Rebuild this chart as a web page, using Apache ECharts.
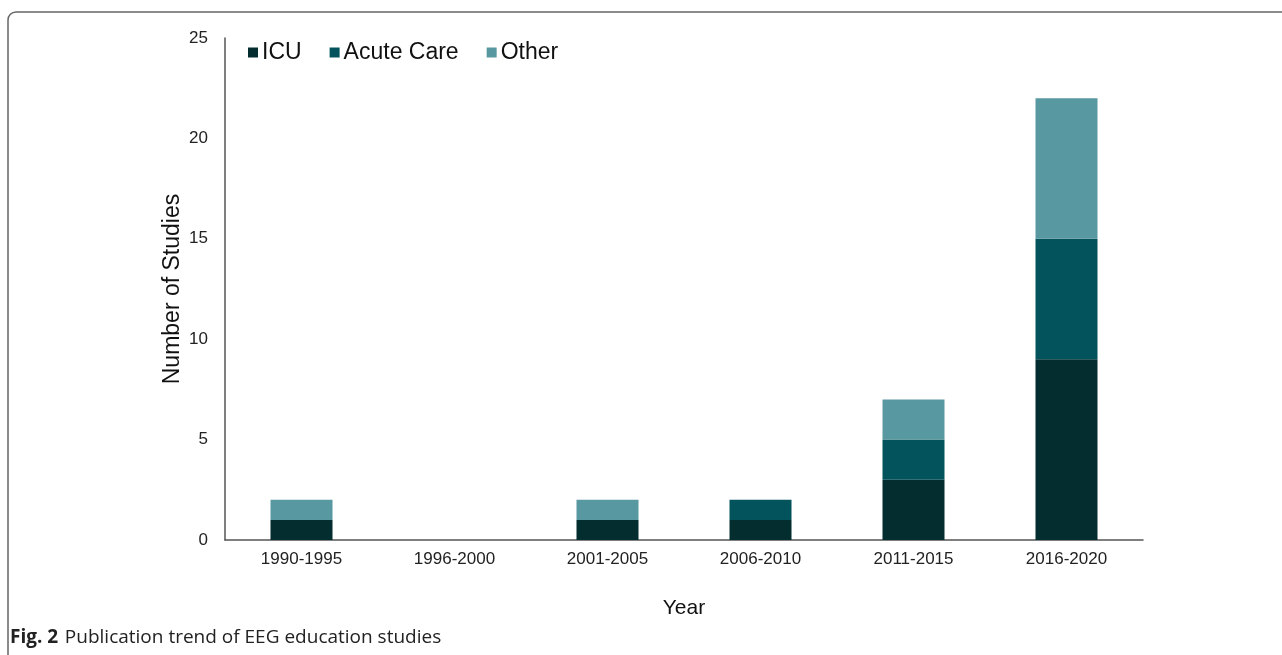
<!DOCTYPE html>
<html>
<head>
<meta charset="utf-8">
<script src="https://cdn.jsdelivr.net/npm/echarts@6/dist/echarts.min.js"></script>
<style>
html,body{margin:0;padding:0;background:#fff;}
#chart{width:1282px;height:655px;}
</style>
</head>
<body>
<div id="chart"></div>
<script>
const categories = ['1990-1995','1996-2000','2001-2005','2006-2010','2011-2015','2016-2020'];
const icu = [1, 0, 1, 1, 3, 9];
const acuteCare = [0, 0, 0, 1, 2, 6];
const other = [1, 0, 1, 0, 2, 7];
const yTicks = [0, 5, 10, 15, 20, 25];

const chart = echarts.init(document.getElementById('chart'), null, {renderer:'canvas'});
const font = 'Liberation Sans, Arial, sans-serif';
chart.setOption({
  animation: false,
  backgroundColor: '#fff',
  textStyle: {fontFamily: font},
  legend: {
    left: 243, top: 36,
    itemWidth: 10, itemHeight: 10, itemGap: 28,
    icon: 'rect',
    textStyle: {fontSize: 23, color: '#111', fontFamily: font, padding: [0,0,0,-1]},
    data: ['ICU','Acute Care','Other']
  },
  grid: {left: 225, top: 38, width: 918, height: 502, containLabel: false},
  xAxis: {
    type: 'category', data: categories,
    name: 'Year', nameLocation: 'middle', nameGap: 58, nameMoveOverlap: false,
    nameTextStyle: {fontSize: 21, color: '#111', fontFamily: font},
    axisLine: {lineStyle: {color: '#555', width: 1.5}},
    axisTick: {show: false},
    axisLabel: {fontSize: 17, color: '#222', margin: 11, fontFamily: font}
  },
  yAxis: {
    type: 'value', min: yTicks[0], max: yTicks[yTicks.length-1], interval: 5,
    name: 'Number of Studies', nameLocation: 'middle', nameGap: 41, nameMoveOverlap: false,
    nameTextStyle: {fontSize: 23, color: '#111', fontFamily: font},
    axisLine: {show: true, lineStyle: {color: '#555', width: 1.5}},
    axisTick: {show: false},
    splitLine: {show: false},
    axisLabel: {fontSize: 17, color: '#222', margin: 17, fontFamily: font}
  },
  series: [
    {name:'ICU', type:'bar', stack:'s', data: icu, barWidth: 62, itemStyle:{color:'#032d2f'}},
    {name:'Acute Care', type:'bar', stack:'s', data: acuteCare, barWidth: 62, itemStyle:{color:'#03535c'}},
    {name:'Other', type:'bar', stack:'s', data: other, barWidth: 62, itemStyle:{color:'#5898a1'}}
  ],
  graphic: [
    {type:'rect', shape:{x:8, y:12, width:1320, height:700, r:8}, style:{fill:'none', stroke:'#666', lineWidth:1.5}, silent:true},
    {type:'text', left: 10, top: 628, style:{
      text: '{b|Fig. 2}  {n|Publication trend of EEG education studies}',
      rich: {
        b: {fontFamily:'Open Sans, Noto Sans, sans-serif', fontWeight:'bold', fontSize:19, fill:'#222'},
        n: {fontFamily:'Open Sans, Noto Sans, sans-serif', fontSize:19, fill:'#222'}
      }
    }}
  ]
});
</script>
</body>
</html>
